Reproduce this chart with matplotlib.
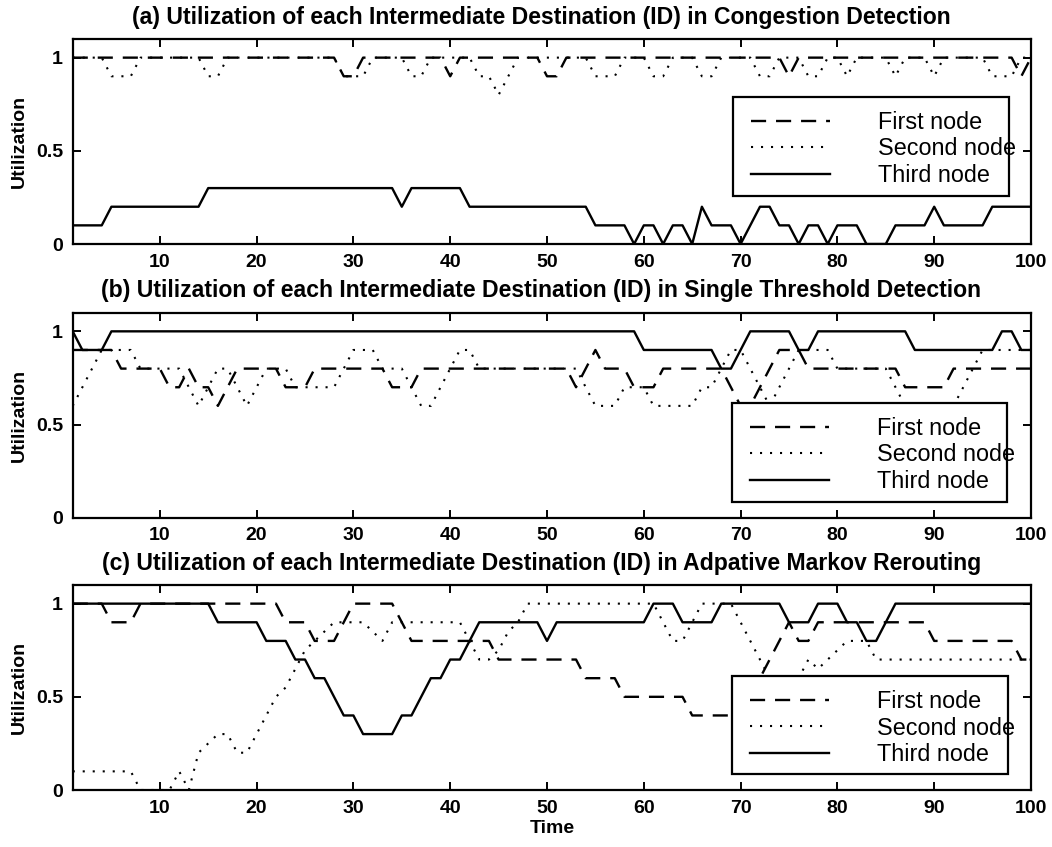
import matplotlib
matplotlib.use("Agg")
import matplotlib.pyplot as plt
from matplotlib.lines import Line2D
from matplotlib.patches import Rectangle

plt.rcParams['font.family'] = ['Liberation Sans', 'DejaVu Sans']

time = list(range(1, 101))

titles = [
    "(a) Utilization of each Intermediate Destination (ID) in Congestion Detection",
    "(b) Utilization of each Intermediate Destination (ID) in Single Threshold Detection",
    "(c) Utilization of each Intermediate Destination (ID) in Adpative Markov Rerouting",
]
series_names = ["First node", "Second node", "Third node"]

# ---- (a) Congestion Detection ----
a_first = [1, 1, 1, 1, 1, 1, 1, 1, 1, 1,
           1, 1, 1, 1, 1, 1, 1, 1, 1, 1,
           1, 1, 1, 1, 1, 1, 1, 1, 0.9, 0.9,
           1, 1, 1, 1, 1, 1, 1, 1, 1, 0.9,
           1, 1, 1, 1, 1, 1, 1, 1, 1, 0.9,
           0.9, 1, 1, 1, 1, 1, 1, 1, 1, 1,
           1, 1, 1, 1, 1, 1, 1, 1, 1, 1,
           1, 1, 1, 1, 0.9, 1, 1, 1, 1, 1,
           1, 1, 1, 1, 1, 1, 1, 1, 1, 1,
           1, 1, 1, 1, 1, 1, 1, 1, 0.9, 1]
a_second = [1, 1, 1, 1, 0.9, 0.9, 0.9, 1, 1, 1,
            1, 1, 1, 1, 0.9, 0.9, 1, 1, 1, 1,
            1, 1, 1, 1, 1, 1, 1, 1, 0.9, 0.9,
            0.9, 1, 1, 1, 1, 0.9, 0.9, 1, 1, 1,
            1, 1, 0.9, 0.9, 0.8, 0.9, 1, 1, 1, 1,
            1, 1, 1, 1, 0.9, 0.9, 0.9, 1, 1, 1,
            0.9, 0.9, 1, 1, 1, 0.9, 0.9, 1, 1, 1,
            1, 0.9, 0.9, 1, 1, 1, 0.9, 0.9, 1, 1,
            0.9, 1, 1, 1, 1, 0.9, 1, 1, 1, 0.9,
            1, 1, 1, 1, 1, 0.9, 0.9, 0.9, 1, 1]
a_third = [0.1, 0.1, 0.1, 0.1, 0.2, 0.2, 0.2, 0.2, 0.2, 0.2,
           0.2, 0.2, 0.2, 0.2, 0.3, 0.3, 0.3, 0.3, 0.3, 0.3,
           0.3, 0.3, 0.3, 0.3, 0.3, 0.3, 0.3, 0.3, 0.3, 0.3,
           0.3, 0.3, 0.3, 0.3, 0.2, 0.3, 0.3, 0.3, 0.3, 0.3,
           0.3, 0.2, 0.2, 0.2, 0.2, 0.2, 0.2, 0.2, 0.2, 0.2,
           0.2, 0.2, 0.2, 0.2, 0.1, 0.1, 0.1, 0.1, 0.0, 0.1,
           0.1, 0.0, 0.1, 0.1, 0.0, 0.2, 0.1, 0.1, 0.1, 0.0,
           0.1, 0.2, 0.2, 0.1, 0.1, 0.0, 0.1, 0.1, 0.0, 0.1,
           0.1, 0.1, 0.0, 0.0, 0.0, 0.1, 0.1, 0.1, 0.1, 0.2,
           0.1, 0.1, 0.1, 0.1, 0.1, 0.2, 0.2, 0.2, 0.2, 0.2]

# ---- (b) Single Threshold Detection ----
b_first = [0.9, 0.9, 0.9, 0.9, 0.9, 0.8, 0.8, 0.8, 0.8, 0.8,
           0.7, 0.7, 0.8, 0.7, 0.7, 0.6, 0.7, 0.8, 0.8, 0.8,
           0.8, 0.8, 0.7, 0.7, 0.7, 0.8, 0.8, 0.8, 0.8, 0.8,
           0.8, 0.8, 0.8, 0.7, 0.7, 0.7, 0.8, 0.8, 0.8, 0.8,
           0.8, 0.8, 0.8, 0.8, 0.8, 0.8, 0.8, 0.8, 0.8, 0.8,
           0.8, 0.8, 0.7, 0.8, 0.9, 0.8, 0.8, 0.8, 0.7, 0.7,
           0.7, 0.8, 0.8, 0.8, 0.8, 0.8, 0.8, 0.8, 0.7, 0.6,
           0.6, 0.7, 0.8, 0.9, 0.9, 0.9, 0.8, 0.8, 0.8, 0.8,
           0.8, 0.8, 0.8, 0.8, 0.8, 0.8, 0.7, 0.7, 0.7, 0.7,
           0.7, 0.8, 0.8, 0.8, 0.8, 0.8, 0.8, 0.8, 0.8, 0.8]
b_second = [0.6, 0.7, 0.8, 0.9, 0.9, 0.9, 0.9, 0.8, 0.8, 0.8,
            0.8, 0.8, 0.7, 0.6, 0.7, 0.8, 0.8, 0.7, 0.6, 0.7,
            0.8, 0.8, 0.8, 0.7, 0.7, 0.7, 0.7, 0.7, 0.8, 0.9,
            0.9, 0.9, 0.8, 0.8, 0.8, 0.7, 0.6, 0.6, 0.7, 0.8,
            0.9, 0.9, 0.8, 0.8, 0.8, 0.8, 0.8, 0.8, 0.8, 0.8,
            0.8, 0.8, 0.8, 0.7, 0.6, 0.6, 0.6, 0.7, 0.7, 0.7,
            0.6, 0.6, 0.6, 0.6, 0.6, 0.7, 0.7, 0.8, 0.9, 0.9,
            0.8, 0.7, 0.6, 0.7, 0.8, 0.9, 0.9, 0.9, 0.9, 0.8,
            0.8, 0.8, 0.8, 0.8, 0.8, 0.7, 0.6, 0.6, 0.6, 0.6,
            0.6, 0.6, 0.7, 0.8, 0.9, 0.9, 0.9, 0.9, 0.9, 0.9]
b_third = [1, 0.9, 0.9, 0.9, 1, 1, 1, 1, 1, 1,
           1, 1, 1, 1, 1, 1, 1, 1, 1, 1,
           1, 1, 1, 1, 1, 1, 1, 1, 1, 1,
           1, 1, 1, 1, 1, 1, 1, 1, 1, 1,
           1, 1, 1, 1, 1, 1, 1, 1, 1, 1,
           1, 1, 1, 1, 1, 1, 1, 1, 1, 0.9,
           0.9, 0.9, 0.9, 0.9, 0.9, 0.9, 0.9, 0.8, 0.8, 0.9,
           1, 1, 1, 1, 1, 0.9, 0.9, 1, 1, 1,
           1, 1, 1, 1, 1, 1, 1, 0.9, 0.9, 0.9,
           0.9, 0.9, 0.9, 0.9, 0.9, 0.9, 1, 1, 0.9, 0.9]

# ---- (c) Adaptive Markov Rerouting ----
c_first = [1, 1, 1, 1, 0.9, 0.9, 0.9, 1, 1, 1,
           1, 1, 1, 1, 1, 1, 1, 1, 1, 1,
           1, 1, 0.9, 0.9, 0.9, 0.8, 0.8, 0.8, 0.9, 1,
           1, 1, 1, 1, 0.9, 0.8, 0.8, 0.8, 0.8, 0.8,
           0.8, 0.8, 0.8, 0.8, 0.7, 0.7, 0.7, 0.7, 0.7, 0.7,
           0.7, 0.7, 0.7, 0.6, 0.6, 0.6, 0.6, 0.5, 0.5, 0.5,
           0.5, 0.5, 0.5, 0.5, 0.4, 0.4, 0.4, 0.4, 0.4, 0.4,
           0.5, 0.6, 0.7, 0.8, 0.9, 0.8, 0.8, 0.9, 0.9, 0.9,
           0.9, 0.9, 0.9, 0.9, 0.9, 0.9, 0.9, 0.9, 0.9, 0.8,
           0.8, 0.8, 0.8, 0.8, 0.8, 0.8, 0.8, 0.8, 0.7, 0.7]
c_second = [0.1, 0.1, 0.1, 0.1, 0.1, 0.1, 0.1, 0.0, 0.0, 0.0,
            0.0, 0.1, 0.0, 0.2, 0.25, 0.3, 0.3, 0.2, 0.2, 0.3,
            0.4, 0.5, 0.55, 0.65, 0.75, 0.8, 0.85, 0.9, 0.9, 0.9,
            0.9, 0.85, 0.8, 0.9, 0.9, 0.9, 0.9, 0.9, 0.9, 0.9,
            0.9, 0.8, 0.7, 0.7, 0.75, 0.85, 0.9, 1, 1, 1,
            1, 1, 1, 1, 1, 1, 1, 1, 1, 1,
            1, 0.9, 0.8, 0.8, 0.9, 1, 1, 1, 1, 0.9,
            0.8, 0.7, 0.6, 0.6, 0.6, 0.6, 0.7, 0.65, 0.7, 0.75,
            0.8, 0.8, 0.8, 0.7, 0.7, 0.7, 0.7, 0.7, 0.7, 0.7,
            0.7, 0.7, 0.7, 0.7, 0.7, 0.7, 0.7, 0.7, 0.7, 0.7]
c_third = [1, 1, 1, 1, 1, 1, 1, 1, 1, 1,
           1, 1, 1, 1, 1, 0.9, 0.9, 0.9, 0.9, 0.9,
           0.8, 0.8, 0.8, 0.7, 0.7, 0.6, 0.6, 0.5, 0.4, 0.4,
           0.3, 0.3, 0.3, 0.3, 0.4, 0.4, 0.5, 0.6, 0.6, 0.7,
           0.7, 0.8, 0.9, 0.9, 0.9, 0.9, 0.9, 0.9, 0.9, 0.8,
           0.9, 0.9, 0.9, 0.9, 0.9, 0.9, 0.9, 0.9, 0.9, 0.9,
           1, 1, 1, 0.9, 0.9, 0.9, 0.9, 1, 1, 1,
           1, 1, 1, 1, 0.9, 0.9, 0.9, 1, 1, 1,
           0.9, 0.9, 0.8, 0.8, 0.9, 1, 1, 1, 1, 1,
           1, 1, 1, 1, 1, 1, 1, 1, 1, 1]

x_ticks = [10, 20, 30, 40, 50, 60, 70, 80, 90, 100]
y_ticks = [0, 0.5, 1]
y_ticklabels = ["0", "0.5", "1"]

panels = [
    (a_first, a_second, a_third),
    (b_first, b_second, b_third),
    (c_first, c_second, c_third),
]

# layout (figure pixels of reference: 1052 x 847)
W, H = 1052.0, 847.0
ax_left_px, ax_right_px = 72.7, 1031.0
ax_tops_px = [39.0, 312.7, 585.0]
ax_h_px = 205.0
legend_boxes = [  # x0, x1, ytop, ybottom in axes fraction
    (0.689, 0.977, 0.7185, 0.234),
    (0.688, 0.975, 0.561, 0.078),
    (0.688, 0.976, 0.556, 0.078),
]

styles = [
    dict(color='black', lw=1.7, linestyle=(0, (6.4, 4.2))),
    dict(color='black', lw=1.5, linestyle=(0, (1.0, 3.8))),
    dict(color='black', lw=1.7, linestyle='-'),
]

fig = plt.figure(figsize=(W / 100, H / 100), dpi=100)

for i, (vals, title, box) in enumerate(zip(panels, titles, legend_boxes)):
    top = ax_tops_px[i]
    ax = fig.add_axes([ax_left_px / W, 1 - (top + ax_h_px) / H,
                       (ax_right_px - ax_left_px) / W, ax_h_px / H])
    for v, st, name in zip(vals, styles, series_names):
        ax.plot(time, v, label=name, zorder=2, **st)
    ax.set_xlim(1, 100)
    ax.set_ylim(0, 1.1)
    ax.set_xticks(x_ticks)
    ax.set_yticks(y_ticks)
    ax.set_yticklabels(y_ticklabels)
    ax.tick_params(direction='in', top=True, right=True, length=5.5, width=1.4,
                   labelsize=14, pad=7)
    for lab in ax.get_xticklabels() + ax.get_yticklabels():
        lab.set_fontweight('bold')
    for s in ax.spines.values():
        s.set_linewidth(1.6)
    t = ax.set_title(title, fontsize=16.6, fontweight='bold', pad=11)
    t.set_x(0.489)
    ax.set_ylabel("Utilization", fontsize=14, fontweight='bold', labelpad=6)
    if i == 2:
        ax.set_xlabel("Time", fontsize=14, fontweight='bold', labelpad=2)

    x0, x1, yt, yb = box
    ax.add_patch(Rectangle((x0, yb), x1 - x0, yt - yb, transform=ax.transAxes,
                           facecolor='white', edgecolor='black', lw=1.6, zorder=3))
    handles = [Line2D([], [], **st) for st in styles]
    ax.legend(handles, series_names, loc='upper left',
              bbox_to_anchor=(x0 + 18.4 / 958.3, yt - 14.1 / 205),
              frameon=False, fontsize=16.8, borderpad=0, borderaxespad=0,
              handlelength=3.36, handletextpad=2.07, labelspacing=0.15)

fig.savefig("out.png", dpi=100)
